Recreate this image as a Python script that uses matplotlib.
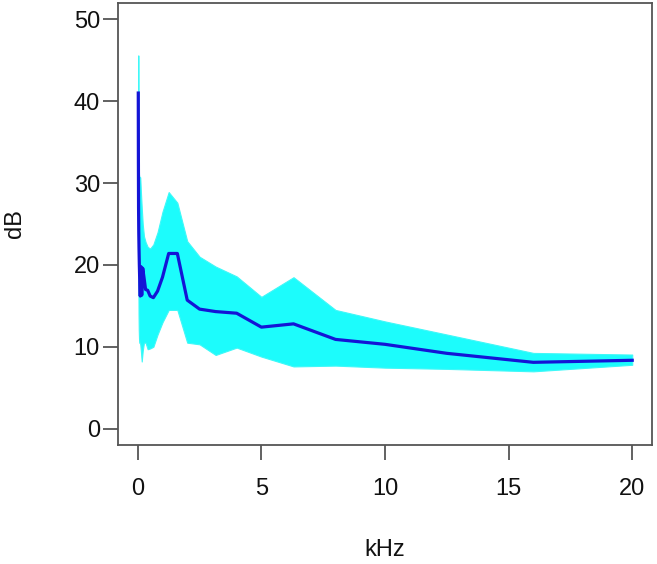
import numpy as np
import matplotlib
matplotlib.use('Agg')
import matplotlib.pyplot as plt

plt.rcParams['font.family'] = ['Liberation Sans', 'DejaVu Sans']

# third-octave band centres, kHz
freq_khz = [0.02, 0.025, 0.0315, 0.04, 0.05, 0.063, 0.08, 0.1, 0.125, 0.16,
            0.2, 0.25, 0.315, 0.4, 0.5, 0.63, 0.8, 1.0, 1.25, 1.6,
            2.0, 2.5, 3.15, 4.0, 5.0, 6.3, 8.0, 10.0, 12.5, 16.0, 20.0]

# mean level over all measurements, dB
mean_db = [41.0, 33.0, 27.0, 24.0, 22.0, 20.0, 18.0, 16.2, 19.8, 16.3,
           19.6, 18.5, 17.0, 16.9, 16.2, 16.0, 16.8, 18.5, 21.4, 21.4,
           15.7, 14.6, 14.3, 14.1, 12.4, 12.8, 10.9, 10.3, 9.2, 8.1, 8.35]

# envelope of the individual measurements, dB
upper_db = [45.6, 38.0, 34.0, 32.0, 31.0, 30.8, 30.7, 30.7, 29.0, 27.0,
            25.0, 23.5, 22.8, 22.2, 22.0, 22.5, 24.0, 26.5, 28.9, 27.6,
            22.9, 21.0, 19.8, 18.6, 16.1, 18.5, 14.5, 13.1, 11.5, 9.25, 9.05]
lower_db = [25.0, 18.0, 14.0, 12.0, 11.0, 10.5, 10.5, 10.3, 9.5, 8.2,
            9.5, 10.5, 10.5, 9.7, 9.8, 10.0, 11.5, 13.0, 14.5, 14.5,
            10.5, 10.3, 9.0, 9.9, 8.8, 7.6, 7.7, 7.45, 7.3, 7.0, 7.8]

x_ticks = [0, 5, 10, 15, 20]
y_ticks = [0, 10, 20, 30, 40, 50]

fig = plt.figure(figsize=(6.57, 5.64), dpi=100)
ax = fig.add_axes([118 / 657, 1 - 445 / 564, 534 / 657, 442 / 564])

x = np.array(freq_khz)
ax.fill_between(x, lower_db, upper_db, color='#1cfcfc', linewidth=0.8,
                edgecolor='#3ff8f8')
ax.plot(x, mean_db, color='#1414d6', linewidth=2.3, solid_joinstyle='round')

ax.set_xlim(-0.8, 20.8)
ax.set_ylim(-2, 52)
ax.set_xticks(x_ticks)
ax.set_yticks(y_ticks)

for sp in ax.spines.values():
    sp.set_color('#555555')
    sp.set_linewidth(1.3)
ax.tick_params(axis='both', colors='#555555', length=11, width=1.3,
               labelsize=17, labelcolor='#111111')
ax.tick_params(axis='x', pad=13)
ax.tick_params(axis='y', pad=2)

ax.set_xlabel('kHz', fontsize=17, color='#111111')
ax.set_ylabel('dB', fontsize=17, color='#111111')
ax.xaxis.set_label_coords(0.5, -0.2376)
ax.yaxis.set_label_coords(-0.193, 0.5)
for lab in (ax.xaxis.label, ax.yaxis.label):
    lab.set_verticalalignment('center')

fig.savefig('out.png', dpi=100)
